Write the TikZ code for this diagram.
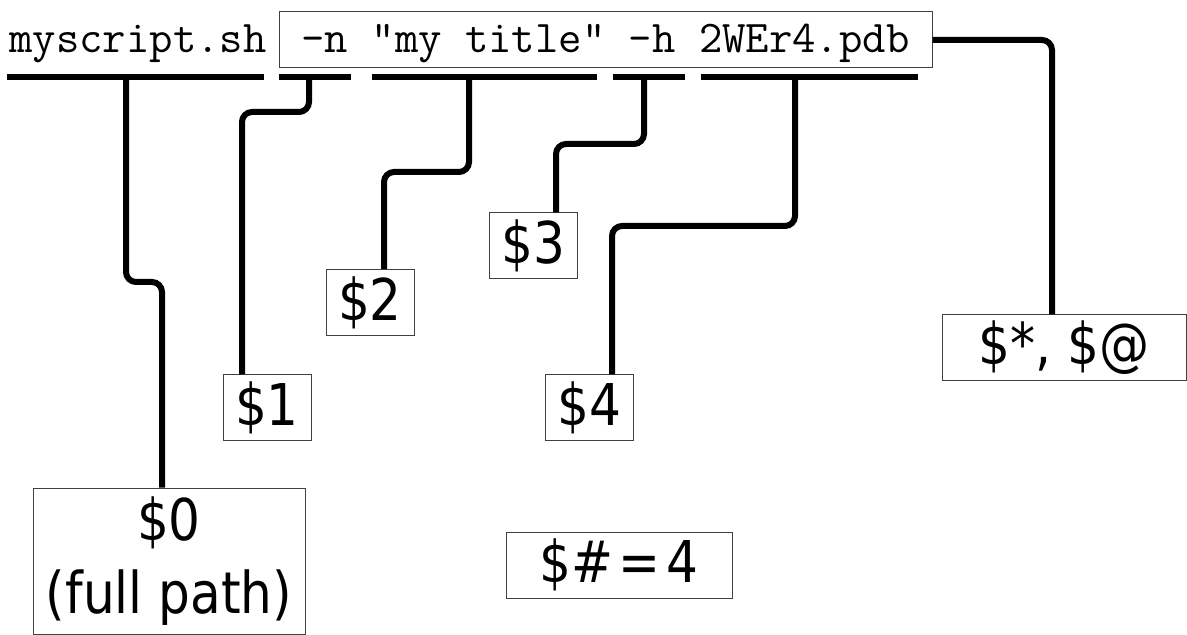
\documentclass[tikz,border=0pt]{standalone}
\usepackage{fontspec}
\newfontfamily\lblfont[FakeStretch=0.87]{DejaVu Sans}
\usetikzlibrary{calc}

\tikzset{
  cmd/.style={font=\ttfamily\fontsize{22.7}{27}\selectfont, inner sep=0pt},
  lbl/.style={draw=black!75, line width=0.5pt, font=\lblfont\fontsize{28.8}{36.5}\selectfont, minimum width=44pt, minimum height=33pt, inner sep=0pt},
  underline/.style={line width=3pt},
  link/.style={line width=3pt, rounded corners=5pt}
}

\begin{document}
\begin{tikzpicture}[x=0.5pt,y=-0.5pt]
        \useasboundingbox (0,0) rectangle (1187,635);

        \node[cmd, anchor=base] (script) at (138,53) {myscript.sh};
        \node[cmd, draw=black!75, line width=0.5pt, minimum width=326.5pt, minimum height=28pt, text height=17pt, text depth=4pt] (argbox) at (605.5,40) {-n "my title" -h 2WEr4.pdb};

        \foreach \a/\b in {7/264, 279/351, 372/597, 613/685, 701/918}
            \draw[underline] (\a,77) -- (\b,77);

        \coordinate (u0) at (126,77);
        \coordinate (u1) at (309,77);
        \coordinate (u2) at (469,77);
        \coordinate (u3) at (644,77);
        \coordinate (u4) at (795,77);

        \coordinate (j0) at (162,282);
        \coordinate (j1) at (242,112);
        \coordinate (j2) at (384,172);
        \coordinate (j3) at (556,144);
        \coordinate (j4) at (612,226);
        \coordinate (jstar) at (1052,40);

        \node[lbl, align=center, minimum width=136pt, minimum height=73pt] (l0) at (169,561) {\$0\\(full path)};
        \node[lbl] (l1) at (267,408) {\$1};
        \node[lbl] (l2) at (370,302.5) {\$2};
        \node[lbl] (l3) at (533.5,246) {\$3};
        \node[lbl] (l4) at (589.5,408) {\$4};
        \node[lbl, minimum width=122pt] (lstar) at (1064,348) {\$*, \$@};
        \node[lbl, minimum width=113pt] (lcount) at (619,565) {\$\#\hspace{3pt}=\hspace{3pt}4};

        \draw[link] (u0) |- (j0) -- (j0 |- l0.north);
        \draw[link] (u1) |- (j1) -- (j1 |- l1.north);
        \draw[link] (u2) |- (j2) -- (j2 |- l2.north);
        \draw[link] (u3) |- (j3) -- (j3 |- l3.north);
        \draw[link] (u4) |- (j4) -- (j4 |- l4.north);
        \draw[link] (argbox.east) -| (jstar |- lstar.north);
\end{tikzpicture}
\end{document}
